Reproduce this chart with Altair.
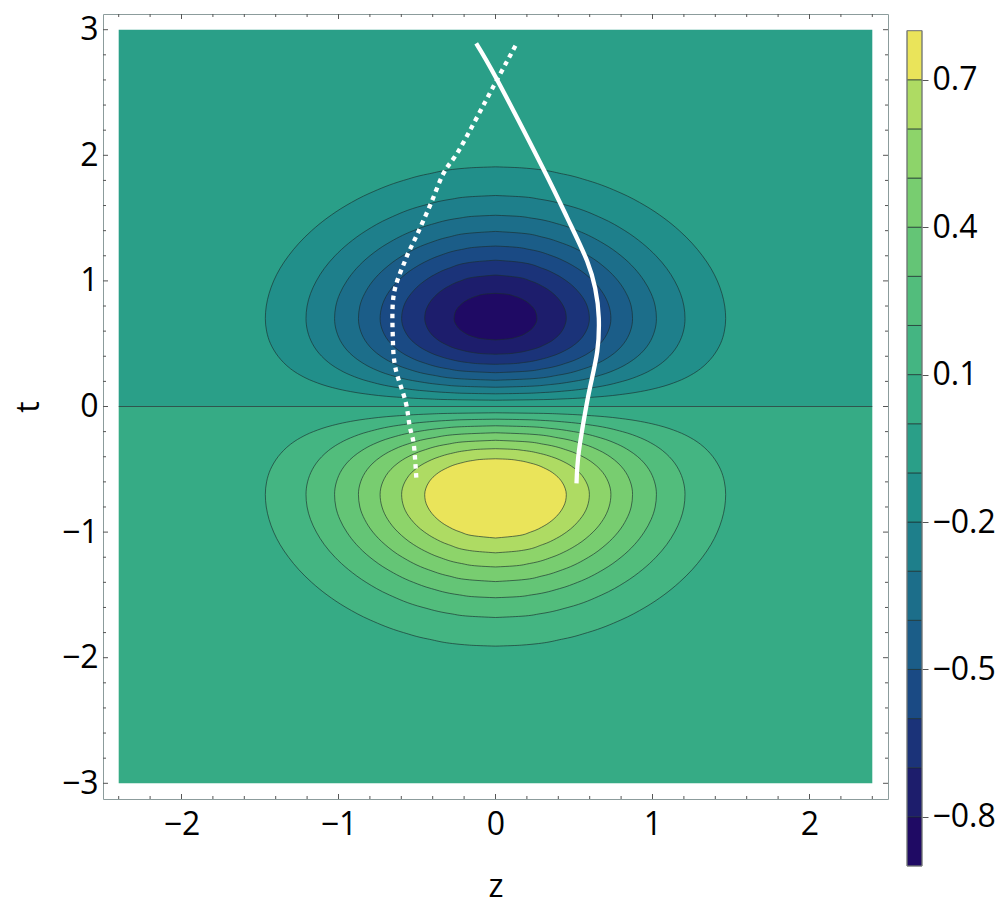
import altair as alt
import pandas as pd

FONT = "Open Sans"

# ---- contour outlines of the upper half (t > 0): half-width |z| at each t
# (the lower half shows the same outlines mirrored in t, with opposite sign of the value)
T_01 = [0.0501, 0.055, 0.06, 0.075, 0.1, 0.125, 0.15, 0.2, 0.25, 0.3, 0.35, 0.4, 0.45, 0.5, 0.6, 0.7,
        0.8, 0.9, 1.0, 1.1, 1.2, 1.3, 1.4, 1.5, 1.6, 1.7, 1.8, 1.85, 1.9, 1.908]
W_01 = [0, 0.304, 0.423, 0.632, 0.827, 0.949, 1.037, 1.160, 1.244, 1.305, 1.350, 1.385, 1.412, 1.433,
        1.458, 1.466, 1.460, 1.442, 1.413, 1.372, 1.318, 1.252, 1.171, 1.073, 0.952, 0.798, 0.586,
        0.434, 0.166, 0]
T_02 = [0.101, 0.105, 0.11, 0.125, 0.15, 0.2, 0.25, 0.3, 0.35, 0.4, 0.45, 0.5, 0.6, 0.7, 0.8, 0.9, 1.0,
        1.1, 1.2, 1.3, 1.4, 1.5, 1.6, 1.65, 1.67, 1.68]
W_02 = [0, 0.194, 0.288, 0.456, 0.619, 0.808, 0.924, 1.004, 1.063, 1.107, 1.141, 1.166, 1.197, 1.207,
        1.200, 1.178, 1.141, 1.090, 1.022, 0.935, 0.824, 0.677, 0.461, 0.284, 0.163, 0]
T_03 = [0.1535, 0.16, 0.175, 0.2, 0.25, 0.3, 0.35, 0.4, 0.45, 0.5, 0.6, 0.7, 0.8, 0.9, 1.0, 1.1, 1.2,
        1.3, 1.4, 1.45, 1.5, 1.515, 1.5225]
W_03 = [0, 0.197, 0.352, 0.498, 0.670, 0.777, 0.851, 0.906, 0.947, 0.977, 1.013, 1.025, 1.017, 0.991,
        0.947, 0.885, 0.800, 0.685, 0.523, 0.408, 0.229, 0.132, 0]
T_04 = [0.209, 0.22, 0.25, 0.3, 0.35, 0.4, 0.45, 0.5, 0.6, 0.7, 0.8, 0.9, 1.0, 1.1, 1.2, 1.3, 1.35,
        1.38, 1.394]
W_04 = [0, 0.217, 0.401, 0.562, 0.661, 0.730, 0.780, 0.816, 0.859, 0.873, 0.864, 0.833, 0.781, 0.703,
        0.593, 0.426, 0.295, 0.165, 0]
T_05 = [0.269, 0.28, 0.3, 0.35, 0.4, 0.45, 0.5, 0.6, 0.7, 0.8, 0.9, 1.0, 1.1, 1.15, 1.2, 1.25, 1.27,
        1.2776]
W_05 = [0, 0.187, 0.304, 0.462, 0.557, 0.621, 0.666, 0.718, 0.735, 0.723, 0.686, 0.621, 0.521, 0.451,
        0.359, 0.217, 0.111, 0]
T_06 = [0.336, 0.34, 0.35, 0.375, 0.4, 0.45, 0.5, 0.6, 0.7, 0.8, 0.9, 1.0, 1.05, 1.1, 1.15, 1.165]
W_06 = [0, 0.097, 0.178, 0.287, 0.357, 0.450, 0.511, 0.577, 0.598, 0.584, 0.537, 0.452, 0.388, 0.299,
        0.146, 0]
T_07 = [0.4162, 0.42, 0.43, 0.45, 0.5, 0.55, 0.6, 0.65, 0.7, 0.75, 0.8, 0.85, 0.9, 0.95, 1.0, 1.03,
        1.047]
W_07 = [0, 0.077, 0.145, 0.221, 0.327, 0.387, 0.423, 0.443, 0.451, 0.447, 0.432, 0.406, 0.367, 0.310,
        0.223, 0.136, 0]
T_08 = [0.5295, 0.54, 0.55, 0.6, 0.65, 0.7, 0.75, 0.8, 0.85, 0.88, 0.895, 0.9013]
W_08 = [0, 0.092, 0.126, 0.213, 0.251, 0.264, 0.257, 0.230, 0.177, 0.118, 0.066, 0]

LEVELS = [0.1, 0.2, 0.3, 0.4, 0.5, 0.6, 0.7, 0.8]
LEVEL_T = [T_01, T_02, T_03, T_04, T_05, T_06, T_07, T_08]
LEVEL_W = [W_01, W_02, W_03, W_04, W_05, W_06, W_07, W_08]
UPPER_LEVELS = [0.1, 0.2, 0.3, 0.4, 0.5, 0.6, 0.7, 0.8]   # negative values, t > 0
LOWER_LEVELS = [0.1, 0.2, 0.3, 0.4, 0.5, 0.6, 0.7]        # positive values, t < 0

# ---- colour bands (lower bound of each band), bottom to top
BAND_LO = [-0.9, -0.8, -0.7, -0.6, -0.5, -0.4, -0.3, -0.2, -0.1, 0.0, 0.1, 0.2, 0.3, 0.4, 0.5, 0.6, 0.7]
BAND_HI = [-0.8, -0.7, -0.6, -0.5, -0.4, -0.3, -0.2, -0.1, 0.0, 0.1, 0.2, 0.3, 0.4, 0.5, 0.6, 0.7, 0.8]
BAND_COLORS = ["#1f0a64", "#1d1d6c", "#1b3379", "#1a4a84", "#1b5d88", "#1c6e8a", "#1e7f8b",
               "#218f8a", "#2a9f88", "#36ab85", "#44b582", "#52bd7c", "#64c576", "#78cd70",
               "#8dd46a", "#aedb63", "#eae45a"]

# ---- plotted region and the level-0 line
REGION_Z = [-2.4, 2.4]
REGION_T = [-3.0, 3.0]

# ---- white curves
SOLID_Z = [-0.123, 0.011, 0.301, 0.457, 0.584, 0.635, 0.658, 0.648, 0.584, 0.531, 0.516]
SOLID_T = [2.891, 2.599, 1.901, 1.502, 1.157, 0.940, 0.705, 0.439, 0.040, -0.359, -0.612]
DOTTED_Z = [0.127, -0.011, -0.223, -0.329, -0.414, -0.499, -0.573, -0.648, -0.654, -0.637, -0.573,
            -0.546, -0.520, -0.503]
DOTTED_T = [2.872, 2.553, 2.061, 1.861, 1.609, 1.370, 1.170, 0.891, 0.545, 0.306, 0.040, -0.160,
            -0.306, -0.600]

# ---- ticks
Z_MAJOR = [-2, -1, 0, 1, 2]
Z_MINOR = [-2.4, -2.2, -1.8, -1.6, -1.4, -1.2, -0.8, -0.6, -0.4, -0.2, 0.2, 0.4, 0.6, 0.8, 1.2, 1.4,
           1.6, 1.8, 2.2, 2.4]
T_MAJOR = [-3, -2, -1, 0, 1, 2, 3]
T_MINOR = [-2.8, -2.6, -2.4, -2.2, -1.8, -1.6, -1.4, -1.2, -0.8, -0.6, -0.4, -0.2, 0.2, 0.4, 0.6, 0.8,
           1.2, 1.4, 1.6, 1.8, 2.2, 2.4, 2.6, 2.8]
CBAR_TICKS = [0.7, 0.4, 0.1, -0.2, -0.5, -0.8]

W, H = 785, 785
FRAME = "#8c9c9c"
TICK = "#555555"
LINE = "#1b2d2d"


def band_color(lo):
    return BAND_COLORS[int(round((lo + 0.9) * 10))]


xscale = alt.Scale(domain=[-2.5, 2.5], nice=False, zero=False)
yscale = alt.Scale(domain=[-3.125, 3.125], nice=False, zero=False)
minus = "replace(datum.label, '-', '\u2212')"
xaxis = alt.Axis(values=Z_MAJOR, ticks=False, tickSize=0, domain=False, grid=False,
                 labelFontSize=32, labelPadding=10, titleFontSize=32, titlePadding=31,
                 labelExpr=minus)
yaxis = alt.Axis(values=T_MAJOR, ticks=False, tickSize=0, domain=False, grid=False,
                 labelFontSize=32, labelPadding=5, titleFontSize=32, titlePadding=16,
                 labelExpr=minus)


def X(f):
    return alt.X(f, type="quantitative", scale=xscale, axis=xaxis, title="z")


def Y(f):
    return alt.Y(f, type="quantitative", scale=yscale, axis=yaxis, title="t")


layers = []

# background bands (level 0 splits the region)
bg = pd.DataFrame({
    "z0": [REGION_Z[0], REGION_Z[0]], "z1": [REGION_Z[1], REGION_Z[1]],
    "t0": [0.0, REGION_T[0]], "t1": [REGION_T[1], 0.0],
    "color": [band_color(-0.1), band_color(0.0)],
})
layers.append(alt.Chart(bg).mark_rect().encode(
    x=X("z0"), x2="z1", y=Y("t0"), y2="t1", fill=alt.Fill("color:N", scale=None)))

# contour regions, outer to inner
for sign, levels in ((1, UPPER_LEVELS), (-1, LOWER_LEVELS)):
    for c in levels:
        k = LEVELS.index(c)
        ts, ws = LEVEL_T[k], LEVEL_W[k]
        df = pd.DataFrame({"t": [sign * t for t in ts], "lo": [-w for w in ws], "hi": ws})
        df = df.sort_values("t")
        fill = band_color(-c - 0.1) if sign == 1 else band_color(c)
        layers.append(alt.Chart(df).mark_area(
            orient="horizontal", interpolate="monotone", fill=fill,
            stroke=LINE, strokeWidth=0.8, strokeOpacity=0.8).encode(
            y=Y("t"), x=X("lo"), x2="hi"))

# zero contour
zero = pd.DataFrame({"z0": [REGION_Z[0]], "z1": [REGION_Z[1]], "t0": [0.0]})
layers.append(alt.Chart(zero).mark_rule(color=LINE, strokeWidth=0.9, opacity=0.8).encode(
    x=X("z0"), x2="z1", y=Y("t0")))

# white curves
solid = pd.DataFrame({"z": SOLID_Z, "t": SOLID_T, "i": list(range(len(SOLID_Z)))})
dotted = pd.DataFrame({"z": DOTTED_Z, "t": DOTTED_T, "i": list(range(len(DOTTED_Z)))})
layers.append(alt.Chart(solid).mark_line(color="white", strokeWidth=4.3, interpolate="cardinal",
                                         strokeCap="butt").encode(
    x=X("z"), y=Y("t"), order="i:Q"))
layers.append(alt.Chart(dotted).mark_line(color="white", strokeWidth=4.3, interpolate="cardinal",
                                          strokeDash=[4.5, 4.5], strokeCap="butt").encode(
    x=X("z"), y=Y("t"), order="i:Q"))

# inward frame ticks
for vals, length in ((Z_MAJOR, 5), (Z_MINOR, 3)):
    d = pd.DataFrame({"v": vals})
    layers.append(alt.Chart(d).mark_rule(color=TICK, strokeWidth=1).encode(
        x=X("v"), y=alt.value(H), y2=alt.value(H - length)))
    layers.append(alt.Chart(d).mark_rule(color=TICK, strokeWidth=1).encode(
        x=X("v"), y=alt.value(0), y2=alt.value(length)))
for vals, length in ((T_MAJOR, 5), (T_MINOR, 3)):
    d = pd.DataFrame({"v": vals})
    layers.append(alt.Chart(d).mark_rule(color=TICK, strokeWidth=1).encode(
        y=Y("v"), x=alt.value(0), x2=alt.value(length)))
    layers.append(alt.Chart(d).mark_rule(color=TICK, strokeWidth=1).encode(
        y=Y("v"), x=alt.value(W), x2=alt.value(W - length)))

main = alt.layer(*layers).properties(width=W, height=H)

# ---- colour bar
cscale = alt.Scale(domain=[-0.9, 0.8338], nice=False, zero=False)
caxis = alt.Axis(orient="right", values=CBAR_TICKS, format=".1f", labelExpr=minus, tickSize=6,
                 tickColor=TICK, domain=False, grid=False, labelFontSize=32, labelPadding=4)
bands = pd.DataFrame({"lo": BAND_LO, "hi": BAND_HI, "color": BAND_COLORS})
cb_fill = alt.Chart(bands).mark_rect(stroke=LINE, strokeWidth=0.9, strokeOpacity=0.75).encode(
    y=alt.Y("lo:Q", scale=cscale, axis=caxis, title=None), y2="hi",
    x=alt.value(0), x2=alt.value(15), fill=alt.Fill("color:N", scale=None))
outline = pd.DataFrame({"lo": [BAND_LO[0]], "hi": [BAND_HI[-1]]})
cb_border = alt.Chart(outline).mark_rect(filled=False, stroke="#8a8a8a", strokeWidth=1).encode(
    y=alt.Y("lo:Q", scale=cscale, axis=caxis, title=None), y2="hi",
    x=alt.value(0), x2=alt.value(15))
cbar = alt.layer(cb_fill, cb_border).properties(
    width=15, height=852, view=alt.ViewBackground(stroke="transparent"))

chart = alt.hconcat(main, cbar, spacing=17).properties(
    padding={"left": 3, "top": 5, "right": 0, "bottom": 6}
).configure_view(stroke=FRAME, strokeWidth=1).configure_axis(
    labelFont=FONT, titleFont=FONT, labelColor="black", titleColor="black",
    titleFontWeight="normal"
)

chart.save("out.html", embed_options={"renderer": "svg", "actions": False})
